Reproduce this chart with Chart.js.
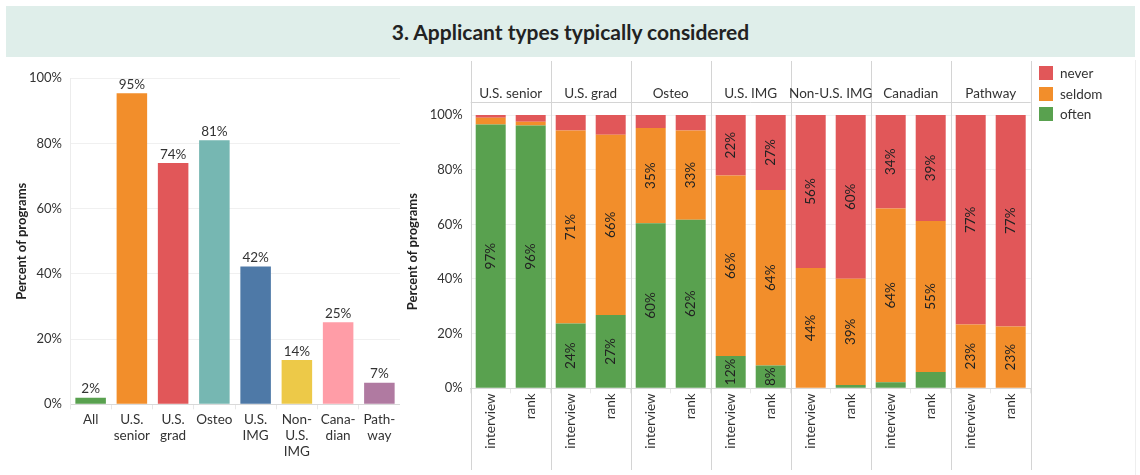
<!DOCTYPE html>
<html>
<head>
<meta charset="utf-8">
<script src="https://cdn.jsdelivr.net/npm/chart.js@4.4.0/dist/chart.umd.min.js"></script>
<style>
  body { margin: 0; width: 1140px; height: 475px; background: #fff; position: relative; overflow: hidden; font-family: Lato, sans-serif; }
  .title { position: absolute; left: 6px; top: 6px; width: 1129px; height: 51px; background: #dfeeea;
           font: bold 21px Lato, sans-serif; color: #222; text-align: center; line-height: 52px; }
  #leftBox { position: absolute; left: 0; top: 57px; width: 400px; height: 418px; }
  #rightBox { position: absolute; left: 400px; top: 57px; width: 740px; height: 418px; }
  .legend { position: absolute; left: 1039px; top: 63px; font-size: 13.5px; color: #333; }
  .legend div { height: 20.5px; display: flex; align-items: center; }
  .legend span { display: inline-block; width: 14px; height: 14px; margin-right: 7px; }
  .frame { position: absolute; left: 1135px; top: 60px; width: 1px; height: 415px; background: #eee; }
</style>
</head>
<body>
<div class="title">3. Applicant types typically considered</div>
<div id="leftBox"><canvas id="left"></canvas></div>
<div id="rightBox"><canvas id="right"></canvas></div>
<div class="legend" id="legend"></div>
<div class="frame"></div>
<script>
// left chart: share of programs considering each applicant type
const typeLabels = [['All'], ['U.S.', 'senior'], ['U.S.', 'grad'], ['Osteo'], ['U.S.', 'IMG'],
                    ['Non-', 'U.S.', 'IMG'], ['Cana-', 'dian'], ['Path-', 'way']];
const typeValues = [2, 95.4, 74, 81, 42.3, 13.6, 25.2, 6.6];
const typeColors = ['#59a14f', '#f28e2b', '#e15759', '#76b7b2', '#4e79a7', '#edc948', '#ff9da7', '#b07aa1'];

// right chart: how often each type is considered, per stage
const groups = ['U.S. senior', 'U.S. grad', 'Osteo', 'U.S. IMG', 'Non-U.S. IMG', 'Canadian', 'Pathway'];
const stages = ['interview', 'rank'];
const often  = [96.5, 96.2, 23.7, 26.8, 60.4, 61.7, 11.8, 8.3, 0, 1.2, 2.2, 6.0, 0, 0];
const seldom = [2.5, 1.3, 70.6, 66.0, 34.8, 32.6, 66.1, 64.3, 44.0, 38.9, 63.6, 55.2, 23.3, 22.6];
const never  = [1.0, 2.5, 5.7, 7.2, 4.8, 5.7, 22.1, 27.4, 56.0, 59.9, 34.2, 38.8, 76.7, 77.4];
const yTicks = [0, 20, 40, 60, 80, 100];

const series = [
  { label: 'often', data: often, color: '#59a14f' },
  { label: 'seldom', data: seldom, color: '#f28e2b' },
  { label: 'never', data: never, color: '#e15759' },
];

const FONT = 'Lato, sans-serif';
const TXT = '#333';

// legend (top to bottom: never, seldom, often)
const lg = document.getElementById('legend');
series.slice().reverse().forEach(s => {
  const d = document.createElement('div');
  d.innerHTML = '<span style="background:' + s.color + '"></span>' + s.label;
  lg.appendChild(d);
});

const pctTick = v => v + '%';

const topLabels = {
  id: 'topLabels',
  afterDatasetsDraw(chart) {
    const ctx = chart.ctx;
    const meta = chart.getDatasetMeta(0);
    ctx.save();
    ctx.font = '13.5px ' + FONT;
    ctx.fillStyle = TXT;
    ctx.textAlign = 'center';
    ctx.textBaseline = 'bottom';
    meta.data.forEach((bar, i) => {
      ctx.fillText(Math.round(chart.data.datasets[0].data[i]) + '%', bar.x, bar.y - 2);
    });
    ctx.restore();
  }
};

new Chart(document.getElementById('left'), {
  type: 'bar',
  data: {
    labels: typeLabels,
    datasets: [{ data: typeValues, backgroundColor: typeColors, barPercentage: 0.74, categoryPercentage: 1 }]
  },
  options: {
    responsive: true,
    maintainAspectRatio: false,
    animation: false,
    layout: { padding: { top: 21.3, left: 0, right: 0, bottom: 0 } },
    plugins: { legend: { display: false }, tooltip: { enabled: false } },
    scales: {
      x: {
        afterFit: s => { s.height = 70.7; },
        grid: { drawOnChartArea: false, drawTicks: true, tickLength: 5, color: '#e8e8e8' },
        border: { color: '#d9d9d9' },
        ticks: { color: TXT, font: { family: FONT, size: 13.5 }, padding: 2, maxRotation: 0, autoSkip: false }
      },
      y: {
        min: 0, max: 100,
        afterBuildTicks: s => { s.ticks = yTicks.map(v => ({ value: v })); },
        afterFit: s => { s.width = 70; },
        grid: { color: '#f0f0f0', drawTicks: false },
        border: { color: '#ececec' },
        ticks: { color: TXT, font: { family: FONT, size: 13 }, padding: 8, callback: pctTick },
        title: { display: true, text: 'Percent of programs', color: '#222',
                 font: { family: FONT, size: 13, weight: 'bold' }, padding: { top: 14, bottom: 0 } }
      }
    }
  },
  plugins: [topLabels]
});

// rotated value labels inside the stacked segments
const segLabels = {
  id: 'segLabels',
  afterDatasetsDraw(chart) {
    const ctx = chart.ctx;
    ctx.save();
    ctx.font = '13.5px ' + FONT;
    ctx.fillStyle = '#222';
    ctx.textAlign = 'center';
    ctx.textBaseline = 'middle';
    chart.data.datasets.forEach((ds, di) => {
      chart.getDatasetMeta(di).data.forEach((bar, i) => {
        const v = ds.data[i];
        if (v < 7.5) return;
        ctx.save();
        ctx.translate(bar.x, (bar.y + bar.base) / 2);
        ctx.rotate(-Math.PI / 2);
        ctx.fillText(Math.round(v) + '%', 0, 0);
        ctx.restore();
      });
    });
    ctx.restore();
  }
};

// facet headers and separators (one facet per applicant type)
const facets = {
  id: 'facets',
  afterDraw(chart) {
    const ctx = chart.ctx;
    const x = chart.scales.x;
    const area = chart.chartArea;
    const step = x.getPixelForValue(1) - x.getPixelForValue(0);
    ctx.save();
    ctx.strokeStyle = '#d4d4d4';
    ctx.lineWidth = 1;
    ctx.beginPath();
    for (let g = 0; g <= groups.length; g++) {
      const edge = Math.round(x.getPixelForValue(g * stages.length) - step / 2) + 0.5;
      ctx.moveTo(edge, 4);
      ctx.lineTo(edge, chart.height - 5);
    }
    ctx.moveTo(area.left, 45.5);
    ctx.lineTo(area.right, 45.5);
    ctx.stroke();
    ctx.font = '13.5px ' + FONT;
    ctx.fillStyle = TXT;
    ctx.textAlign = 'center';
    ctx.textBaseline = 'middle';
    groups.forEach((name, g) => {
      const c = (x.getPixelForValue(g * 2) + x.getPixelForValue(g * 2 + 1)) / 2;
      ctx.fillText(name, c, 37);
    });
    ctx.restore();
  }
};

new Chart(document.getElementById('right'), {
  type: 'bar',
  data: {
    labels: groups.flatMap(() => stages),
    datasets: series.map(s => ({
      label: s.label, data: s.data, backgroundColor: s.color,
      barPercentage: 0.75, categoryPercentage: 1
    }))
  },
  options: {
    responsive: true,
    maintainAspectRatio: false,
    animation: false,
    layout: { padding: { top: 58, left: 0, right: 109.3, bottom: 0 } },
    plugins: { legend: { display: false }, tooltip: { enabled: false } },
    scales: {
      x: {
        stacked: true,
        afterFit: s => { s.height = 86.7; },
        grid: { drawOnChartArea: false, drawTicks: true, tickLength: 5, color: '#e8e8e8' },
        border: { color: '#d9d9d9' },
        ticks: { color: TXT, font: { family: FONT, size: 13.5 }, padding: 0, minRotation: 90, maxRotation: 90, autoSkip: false }
      },
      y: {
        stacked: true,
        min: 0, max: 100,
        afterBuildTicks: s => { s.ticks = yTicks.map(v => ({ value: v })); },
        afterFit: s => { s.width = 70.7; },
        grid: { color: '#f0f0f0', drawTicks: false },
        border: { display: false },
        ticks: { color: TXT, font: { family: FONT, size: 13 }, padding: 8, callback: pctTick },
        title: { display: true, text: 'Percent of programs', color: '#222',
                 font: { family: FONT, size: 13, weight: 'bold' }, padding: { top: 5, bottom: 0 } }
      }
    }
  },
  plugins: [segLabels, facets]
});
</script>
</body>
</html>
